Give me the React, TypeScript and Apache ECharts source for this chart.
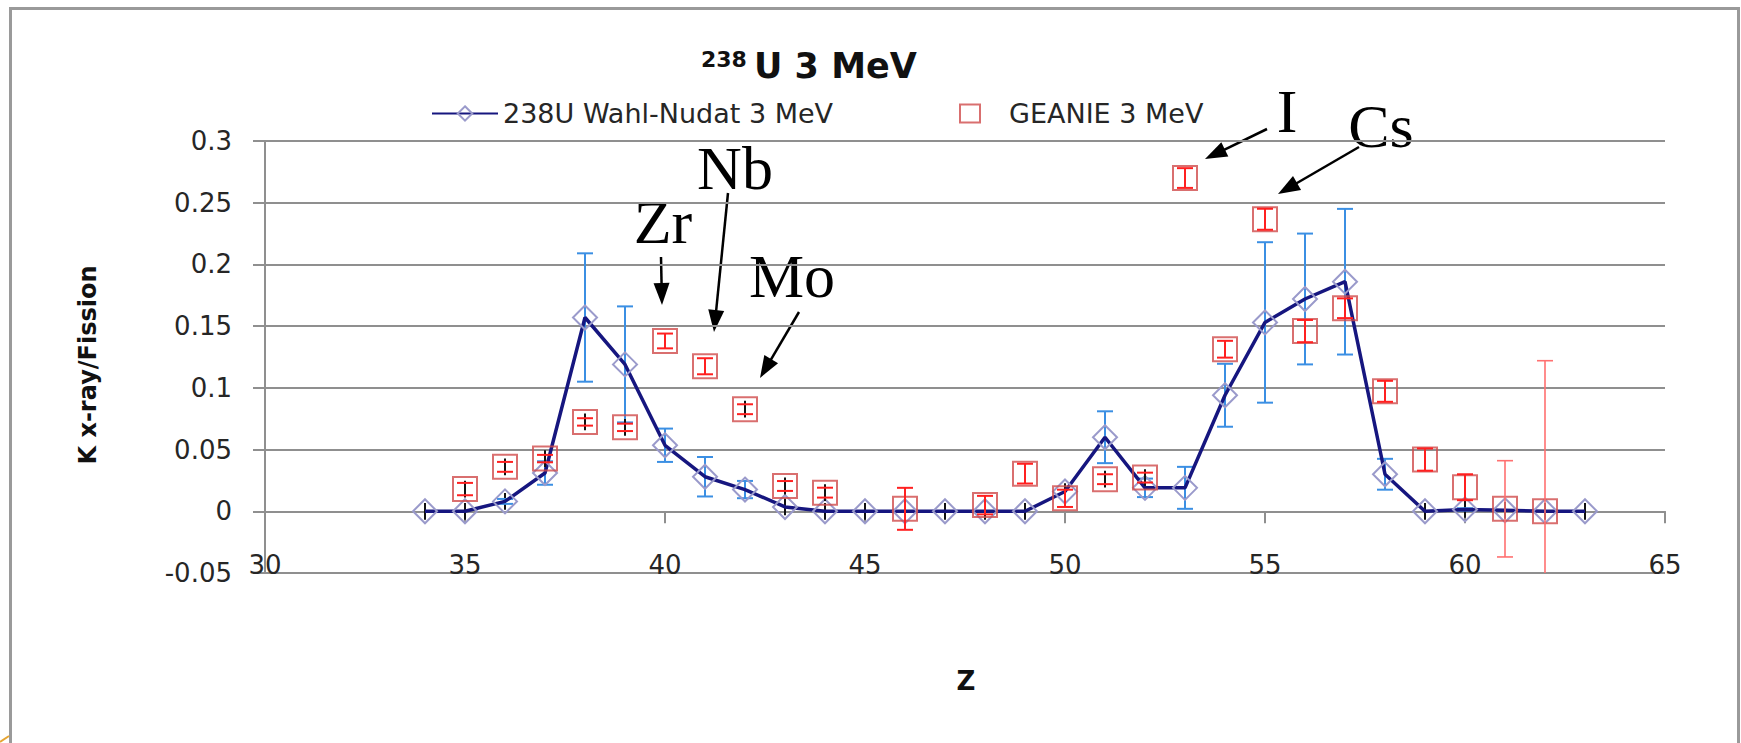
import React, { useEffect, useRef } from "react";
import * as echarts from "echarts";

// ---------- data ----------
const wahlName = "238U Wahl-Nudat 3 MeV";
const geanieName = "GEANIE 3 MeV";

const wahlZ = [34, 35, 36, 37, 38, 39, 40, 41, 42, 43, 44, 45, 46, 47, 48, 49, 50, 51, 52, 53, 54, 55, 56, 57, 58, 59, 60, 61, 62, 63];
const wahlValues = [0, 0, 0.008, 0.031, 0.157, 0.119, 0.0535, 0.028, 0.0176, 0.0035, 0, 0, 0, 0, 0, 0, 0.016, 0.06, 0.019, 0.019, 0.094, 0.153, 0.172, 0.186, 0.03, 0, 0.0015, 0.0008, 0, 0];
const wahlErrors = [0, 0, 0.002, 0.0095, 0.052, 0.047, 0.0135, 0.016, 0.007, 0, 0, 0, 0, 0, 0, 0, 0, 0.021, 0.0075, 0.017, 0.0255, 0.065, 0.053, 0.059, 0.0125, 0, 0.001, 0, 0, 0];

const geanieZ = [35, 36, 37, 38, 39, 40, 41, 42, 43, 44, 46, 48, 49, 50, 51, 52, 53, 54, 55, 56, 57, 58, 59, 60, 61, 62];
const geanieValues = [0.018, 0.036, 0.0427, 0.0724, 0.068, 0.138, 0.1175, 0.0827, 0.0205, 0.0151, 0.002, 0.005, 0.0305, 0.0105, 0.026, 0.0273, 0.27, 0.1313, 0.2366, 0.146, 0.1645, 0.0972, 0.0419, 0.0195, 0.002, 0];
const geanieErrors = [0.005, 0.004, 0.003, 0.003, 0.003, 0.006, 0.0065, 0.004, 0.004, 0.004, 0.017, 0.0075, 0.008, 0.007, 0.004, 0.004, 0.008, 0.0068, 0.0085, 0.009, 0.008, 0.0085, 0.009, 0.0105, 0.039, 0.122];

const xMin = 30, xMax = 65, xStep = 5;
const yMin = -0.05, yMax = 0.3, yStep = 0.05;

const annotationLabels = ["Zr", "Nb", "Mo", "I", "Cs"];

// ---------- layout / style ----------
const W = 1741, H = 743;
const GRID = { left: 265, top: 141, width: 1400, height: 432 };
const SANS = "DejaVu Sans";
const SERIF = "Liberation Serif";
const GRID_COLOR = "#8f8f8f";
const TEXT = "#262626";
const NAVY = "#16167f";
const DIAMOND = "#9a9acb";
const BLUE = "#3b8fe3";
const RED = "#ff2020";
const RED_LIGHT = "#ff7070";
const SQUARE = "#cf4b4b";
const MIN_STEM = 0.0068;
const CAP = 8;

// annotation placement (pixels)
const annoText = [
  { x: 663, y: 222 },
  { x: 735, y: 168 },
  { x: 792, y: 276 },
  { x: 1287, y: 111 },
  { x: 1381, y: 126 },
];
const annoArrows = [
  [661, 257, 662, 305],
  [728, 193, 714, 332],
  [799, 312, 760, 378],
  [1267, 129, 1205, 159],
  [1359, 147, 1278, 194],
];

function arrow(a: number[]) {
  const [x1, y1, x2, y2] = a;
  const dx = x2 - x1, dy = y2 - y1;
  const len = Math.hypot(dx, dy);
  const ux = dx / len, uy = dy / len;
  const L = 22, w = 8;
  const bx = x2 - ux * L, by = y2 - uy * L;
  return [
    { type: "line", silent: true, shape: { x1, y1, x2: bx + ux * 2, y2: by + uy * 2 }, style: { stroke: "#000", lineWidth: 2.5 } },
    {
      type: "polygon",
      silent: true,
      shape: { points: [[x2, y2], [bx - uy * w, by + ux * w], [bx + uy * w, by - ux * w]] },
      style: { fill: "#000" },
    },
  ];
}

function errorSeries(xs: number[], vs: number[], es: number[], color: string, kind: string, z: number) {
  return {
    type: "custom",
    clip: true,
    silent: true,
    z,
    data: xs.map((x, i) => [x, vs[i] - es[i], vs[i] + es[i], vs[i], es[i]]),
    encode: { x: 0, y: [1, 2] },
    renderItem: (params: any, api: any) => {
      const x = api.value(0);
      const v = api.value(3);
      const e = api.value(4);
      const children: any[] = [];
      const dark = kind === "wahl" ? e < 0.004 : e < 0.0055;
      const big = kind === "geanie" && e > 0.03;
      const col = big ? RED_LIGHT : color;
      const lw = big ? 1.6 : 2;
      if (dark) {
        const h = Math.max(e, MIN_STEM);
        const a = api.coord([x, v + h]);
        const b = api.coord([x, v - h]);
        children.push({ type: "line", shape: { x1: a[0], y1: a[1], x2: b[0], y2: b[1] }, style: { stroke: "#111", lineWidth: 2 } });
      } else {
        const a = api.coord([x, v + e]);
        const b = api.coord([x, v - e]);
        children.push({ type: "line", shape: { x1: a[0], y1: a[1], x2: b[0], y2: b[1] }, style: { stroke: col, lineWidth: lw } });
      }
      if (e > 0) {
        const a = api.coord([x, v + e]);
        const b = api.coord([x, v - e]);
        children.push({ type: "line", shape: { x1: a[0] - CAP, y1: a[1], x2: a[0] + CAP, y2: a[1] }, style: { stroke: col, lineWidth: lw } });
        children.push({ type: "line", shape: { x1: b[0] - CAP, y1: b[1], x2: b[0] + CAP, y2: b[1] }, style: { stroke: col, lineWidth: lw } });
      }
      return { type: "group", children };
    },
  };
}

export default function App() {
  const ref = useRef<HTMLDivElement>(null);

  useEffect(() => {
    if (!ref.current) return;
    const chart = echarts.init(ref.current, null, { renderer: "svg" });

    const graphics: any[] = [
      { type: "rect", silent: true, shape: { x: 10.5, y: 8.5, width: 1728, height: 800 }, style: { fill: "none", stroke: "#9a9a9a", lineWidth: 3 } },
      { type: "line", silent: true, shape: { x1: 0, y1: 742, x2: 9, y2: 736 }, style: { stroke: "#e6a532", lineWidth: 2 } },
      {
        type: "text",
        silent: true,
        x: 88,
        y: 365,
        rotation: Math.PI / 2,
        style: { text: "K x-ray/Fission", fontFamily: SANS, fontWeight: "bold", fontSize: 24, fill: "#111", align: "center", verticalAlign: "middle" },
      },
      {
        type: "text",
        silent: true,
        x: 966,
        y: 681,
        style: { text: "Z", fontFamily: SANS, fontWeight: "bold", fontSize: 26, fill: "#111", align: "center", verticalAlign: "middle" },
      },
      {
        type: "text",
        silent: true,
        x: 701,
        y: 59,
        style: { text: "238", fontFamily: SANS, fontWeight: "bold", fontSize: 22, fill: "#111", align: "left", verticalAlign: "middle" },
      },
      {
        type: "text",
        silent: true,
        x: 754,
        y: 66,
        style: { text: "U 3 MeV", fontFamily: SANS, fontWeight: "bold", fontSize: 35, fill: "#111", align: "left", verticalAlign: "middle" },
      },
    ];
    annotationLabels.forEach((t, i) => {
      graphics.push({
        type: "text",
        silent: true,
        x: annoText[i].x,
        y: annoText[i].y,
        style: { text: t, fontFamily: SERIF, fontSize: 62, fill: "#000", align: "center", verticalAlign: "middle" },
      });
    });
    annoArrows.forEach((a) => graphics.push(...arrow(a)));

    chart.setOption({
      animation: false,
      backgroundColor: "#fff",
      grid: { ...GRID, containLabel: false },
      legend: [
        {
          data: [{ name: wahlName }],
          left: 426,
          top: 95,
          itemWidth: 66,
          itemHeight: 18,
          selectedMode: false,
          textStyle: { fontFamily: SANS, fontSize: 27, color: TEXT },
        },
        {
          data: [{ name: geanieName }],
          left: 954,
          top: 95,
          itemWidth: 20,
          itemHeight: 18,
          selectedMode: false,
          textStyle: { fontFamily: SANS, fontSize: 27, color: TEXT, padding: [0, 0, 0, 24] },
        },
      ],
      xAxis: [
        {
          type: "value",
          min: xMin,
          max: xMax,
          interval: xStep,
          position: "bottom",
          axisLine: { show: true, onZero: true, lineStyle: { color: GRID_COLOR, width: 2 } },
          axisTick: { show: true, inside: false, length: 12, lineStyle: { color: GRID_COLOR, width: 2 } },
          axisLabel: { show: false },
          splitLine: { show: false },
        },
        {
          type: "value",
          min: xMin,
          max: xMax,
          interval: xStep,
          position: "bottom",
          axisLine: { show: false, onZero: false },
          axisTick: { show: false },
          axisLabel: { show: true, margin: -8, verticalAlign: "middle", fontFamily: SANS, fontSize: 26, color: TEXT },
          splitLine: { show: false },
        },
      ],
      yAxis: {
        type: "value",
        min: yMin,
        max: yMax,
        interval: yStep,
        axisLine: { show: true, lineStyle: { color: GRID_COLOR, width: 2 } },
        axisTick: { show: true, inside: false, length: 12, lineStyle: { color: GRID_COLOR, width: 2 } },
        axisLabel: {
          margin: 33,
          fontFamily: SANS,
          fontSize: 26,
          color: TEXT,
          formatter: (v: number) => String(Math.round(v * 100) / 100),
        },
        splitLine: { show: true, lineStyle: { color: GRID_COLOR, width: 2 } },
      },
      series: [
        errorSeries(wahlZ, wahlValues, wahlErrors, BLUE, "wahl", 2),
        {
          name: wahlName,
          type: "line",
          z: 3,
          data: wahlZ.map((z, i) => [z, wahlValues[i]]),
          symbol: "diamond",
          symbolSize: 24,
          showSymbol: true,
          lineStyle: { color: NAVY, width: 3.5 },
          itemStyle: { color: "rgba(255,255,255,0)", borderColor: DIAMOND, borderWidth: 2 },
          emphasis: { disabled: true },
        },
        {
          name: geanieName,
          type: "scatter",
          z: 4,
          data: geanieZ.map((z, i) => [z, geanieValues[i]]),
          symbol: "rect",
          symbolSize: 24,
          itemStyle: { color: "rgba(255,255,255,0)", borderColor: SQUARE, borderWidth: 2 },
          emphasis: { disabled: true },
        },
        errorSeries(geanieZ, geanieValues, geanieErrors, RED, "geanie", 5),
      ],
      graphic: graphics,
    });

    return () => chart.dispose();
  }, []);

  return <div ref={ref} style={{ position: "absolute", left: 0, top: 0, width: W, height: H, background: "#fff" }} />;
}
